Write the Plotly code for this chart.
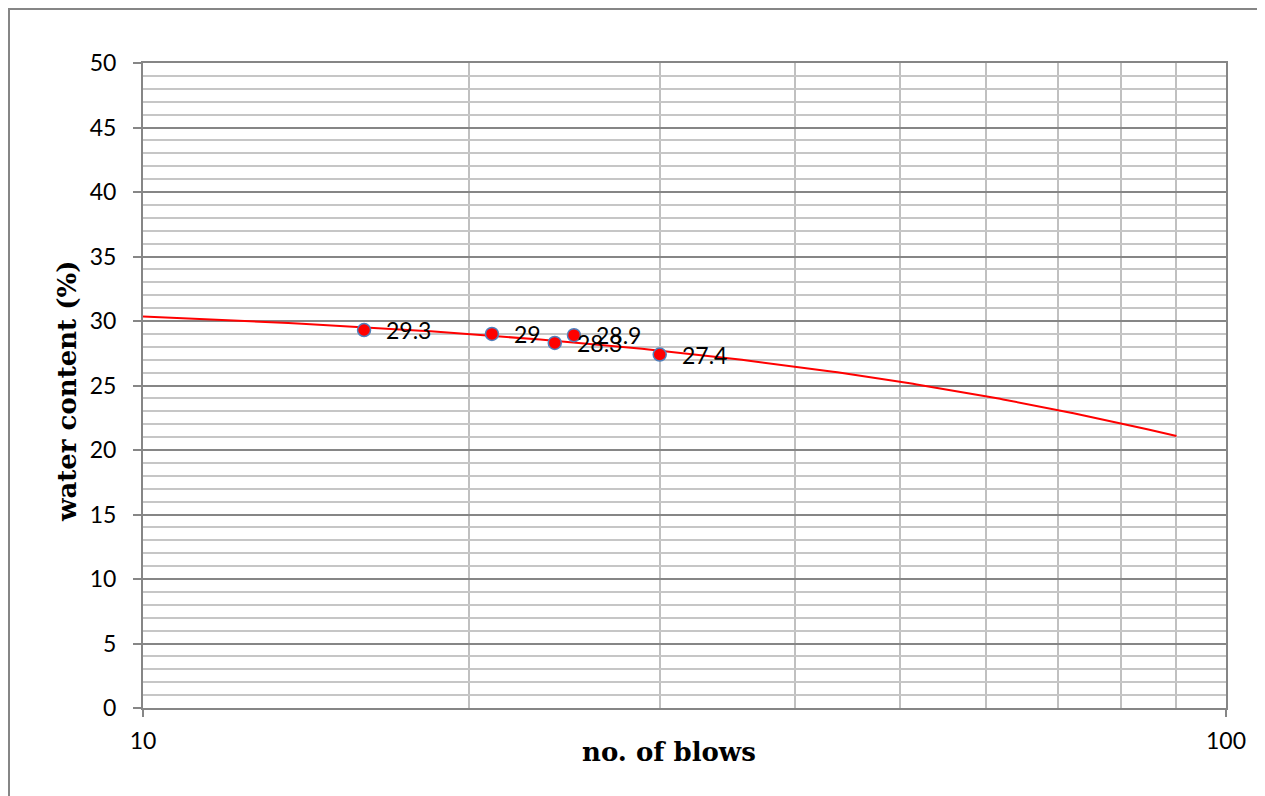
import numpy as np
import plotly.graph_objects as go

# Data
blows = [16, 21, 24, 25, 30]
water_content = [29.3, 29.0, 28.3, 28.9, 27.4]
point_labels = ["29.3", "29", "28.3", "28.9", "27.4"]

# Exponential trendline (Excel style) extent on the x axis
trend_x_range = [10, 90]

x_tick_vals = [10, 100]
x_tick_text = ["10", "100"]
x_minor_vals = [20, 30, 40, 50, 60, 70, 80, 90]

# Exponential fit y = a * exp(b x) computed from the data
b, ln_a = np.polyfit(np.array(blows, float), np.log(np.array(water_content, float)), 1)
tx = np.linspace(trend_x_range[0], trend_x_range[1], 200)
ty = np.exp(ln_a) * np.exp(b * tx)

ML, MT, PW, PH = 135, 55, 1083, 645
W, H = 1265, 796

fig = go.Figure()
fig.add_trace(go.Scatter(x=tx, y=ty, mode="lines",
                         line=dict(color="#FF0000", width=2), hoverinfo="skip",
                         showlegend=False))
fig.add_trace(go.Scatter(x=blows, y=water_content, mode="markers",
                         marker=dict(color="#FF0000", size=13,
                                     line=dict(color="#4F81BD", width=1.5)),
                         showlegend=False))

label_font = dict(family="Lato", size=23, color="#000000")
for xv, yv, t in zip(blows, water_content, point_labels):
    fig.add_annotation(x=np.log10(xv), y=yv, text=t, showarrow=False,
                       xanchor="left", yanchor="middle", xshift=20, yshift=0,
                       font=label_font)

fig.add_annotation(xref="paper", yref="paper", x=0.486, y=0, yshift=-44,
                   text="<b>no. of blows</b>", showarrow=False,
                   xanchor="center", yanchor="middle",
                   font=dict(family="DejaVu Serif", size=26, color="#000000"))
fig.add_annotation(xref="paper", yref="paper", x=0, y=0.49, xshift=-76,
                   text="<b>water content (%)</b>", showarrow=False, textangle=-90,
                   xanchor="center", yanchor="middle",
                   font=dict(family="DejaVu Serif", size=26, color="#000000"))

# outer chart border (starts at the figure's top-left corner)
fig.add_shape(type="rect", xref="paper", yref="paper",
              x0=(1 - ML) / PW, x1=(W + 10 - ML) / PW,
              y0=-(H + 10 - MT - PH) / PH, y1=1 + (MT - 1) / PH,
              line=dict(color="#868686", width=2), fillcolor="rgba(0,0,0,0)",
              layer="below")

fig.update_xaxes(type="log", range=[1, 2], tickvals=x_tick_vals, ticktext=x_tick_text,
                 showgrid=True, gridcolor="#868686", gridwidth=1.5,
                 showline=True, linecolor="#868686", linewidth=2, mirror=True,
                 ticks="outside", ticklen=7, tickcolor="#868686", tickwidth=1.5,
                 ticklabelstandoff=4,
                 minor=dict(tickvals=x_minor_vals, showgrid=True, gridcolor="#C0C0C0",
                            gridwidth=1.5, ticks=""),
                 tickfont=dict(family="Lato", size=23, color="#000000"),
                 zeroline=False)
fig.update_yaxes(range=[0, 50], dtick=5, tick0=0,
                 showgrid=True, gridcolor="#868686", gridwidth=1.5,
                 showline=True, linecolor="#868686", linewidth=2, mirror=True,
                 ticks="outside", ticklen=8, tickcolor="#868686", tickwidth=1.5,
                 ticklabelstandoff=12,
                 minor=dict(dtick=1, tick0=0, showgrid=True, gridcolor="#C6C6C6",
                            gridwidth=1.5, ticks=""),
                 tickfont=dict(family="Lato", size=23, color="#000000"),
                 zeroline=False)

fig.update_layout(width=W, height=H, plot_bgcolor="#FFFFFF", paper_bgcolor="#FFFFFF",
                  margin=dict(l=ML, r=W - ML - PW, t=MT, b=H - MT - PH), showlegend=False)

fig.write_html("out.html")
